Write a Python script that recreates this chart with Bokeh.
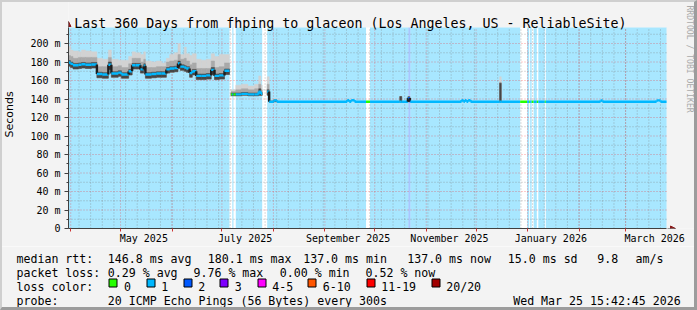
import math
import pandas as pd
from bokeh.plotting import figure
from bokeh.layouts import column
from bokeh.models import (ColumnDataSource, FixedTicker, DatetimeTickFormatter, Label,
                          Arrow, NormalHead, Range1d, InlineStyleSheet)
from bokeh.core.properties import value
from bokeh.embed import file_html
from bokeh.resources import INLINE

# ---------------------------------------------------------------- data
START = pd.Timestamp("2025-03-30 15:42")      # left edge of the 360 day window
SPAN_DAYS = 360
NAN = float("nan")

# sample start (days since START); a NaN value ends a data section
t_day = [0.0, 1.2, 2.7, 6.0, 7.8, 10.2, 13.8, 17.1, 20.4, 24.0, 25.8, 29.9, 31.9, 36.2,
         38.3, 40.3, 43.3, 45.3, 46.3, 49.9, 52.9, 55.9, 58.9, 60.9, 63.7, 65.9, 67.3,
         69.7, 70.9, 72.9, 74.5, 76.9, 79.9, 82.9, 85.9, 87.9, 90.7, 93.9, 96.9,
         97.8, 100.7, 104.0, 108.0, 112.0, 114.5, 115.8, 116.6,
         119.6, 120.8, 123.5, 125.5, 167.8, 169.0, 170.2, 172.2, 199.4, 200.6, 204.3,
         205.5, 236.6, 237.8, 238.6, 239.6, 240.6, 242.0, 259.5, 260.5, 320.3, 321.5,
         354.0, 356.4, 360.0]
# median rtt (ms)
median_ms = [179.5, 178.0, 176.5, 177.0, 177.5, 177.0, 177.3, 167.0, 166.5, 177.0, 167.5,
             168.5, 166.5, 170.0, 176.5, 176.5, 172.0, 176.0, 166.5, 167.0, 167.5, 167.5,
             172.0, 173.0, 173.5, 178.5, 175.0, 174.0, 173.0, 168.0, 170.0, 165.0, 165.0,
             165.5, 171.5, 165.0, 165.5, 170.5, NAN,
             145.0, 145.0, 145.5, 145.0, 145.0, 148.0, 145.5, NAN,
             148.0, 137.0, 138.5, 137.0, 138.8, 137.0, 138.8, 137.0, 137.0, 137.0, 141.0,
             137.0, 138.8, 137.0, 138.8, 137.0, 138.8, 137.0, 137.0, 137.0, 138.5, 137.0,
             138.5, 137.0, NAN]
# smoke: lowest ping, top of the dense core, top of the middle band, highest ping (ms)
smoke_lo = [175.5, 174, 172.5, 173, 173.5, 173, 173.5, 163, 162.5, 172, 163.5, 164.5, 162.5,
            166, 172.5, 172.5, 168, 171, 162.5, 163, 163.5, 163.5, 168, 169, 169.5, 173,
            171, 170, 169, 163.5, 166, 161, 161, 161.5, 166.5, 161, 161.5, 166.5, NAN,
            143.5, 143.5, 144, 143.5, 143.5, 144, 144, NAN,
            144, 136.5, 137, 137, 138.8, 137, 138.8, 137, 136.5, 137, 137, 137, 138.8, 137,
            138.8, 137, 138.8, 137, 136.5, 137, 138.5, 137, 138.5, 137, NAN]
smoke_core = [181.5, 180, 178.5, 179, 179.5, 179, 179.5, 169, 168.5, 180, 169.5, 170.5,
              168.5, 172, 178.5, 178.5, 174, 178, 168.5, 169, 169.5, 169.5, 174, 175, 175.5,
              181, 177, 176, 175, 170, 172, 167, 167, 167.5, 174, 167, 167.5, 172.5, NAN,
              146.5, 146.5, 147, 146.5, 146.5, 151, 147, NAN,
              150, 137.5, 139, 137, 138.8, 137, 138.8, 137, 142.7, 137, 142.5, 137, 138.8,
              137, 138.8, 137, 138.8, 137, 157, 137, 138.5, 137, 138.5, 137, NAN]
smoke_mid = [187, 186, 184, 185, 185, 185, 185, 175, 175, 185, 175, 176, 174, 178, 184, 184,
             180, 183, 174, 174, 175, 175, 180, 181, 182, 188, 183, 184, 181, 177, 179, 173,
             173, 173, 181, 174, 175, 179, NAN,
             148, 150, 151, 150, 151, 156, 150, NAN,
             156, 138, 139.5, 137, 138.8, 137, 138.8, 137, 142.7, 137, 142.5, 137, 138.8,
             137, 138.8, 137, 138.8, 137, 158, 137, 138.5, 137, 138.5, 137, NAN]
smoke_hi = [197, 193, 192, 191, 193, 192, 191, 184, 183, 193, 183, 182, 182, 186, 191, 190,
            188, 191, 181, 180, 181, 179, 184, 188, 190, 200, 188, 196, 189, 187, 189, 183,
            182, 183, 189, 186, 188, 188, NAN,
            150, 155, 156, 154, 156, 165, 155, NAN,
            164, 139, 140.5, 137, 138.8, 137, 138.8, 137, 143, 137, 143, 137, 138.8,
            137, 138.8, 137, 138.8, 137, 164, 137, 138.5, 137, 138.5, 137, NAN]

# loss runs: start day and loss colour index (-1 = no data)
loss_day = [0.0, 96.9, 97.8, 98.6, 99.3, 100.7, 116.6, 119.6, 179.1, 181.5, 204.6, 205.8,
            271.9, 276.1, 277.3, 277.9, 278.8, 280.0, 281.9, 282.8, 286.7, 287.3]
loss_idx = [1, -1, 0, 1, 0, 1, -1, 1, 0, 1, 2, 1, 0, 1, 0, 1, 0, 1, 0, 1, 0, 1]
loss_names = ["0", "1", "2", "3", "4-5", "6-10", "11-19", "20/20"]
loss_colors = ["#26ff00", "#00b8ff", "#0059ff", "#7e00ff", "#ff00ff", "#ff5500",
               "#ff0000", "#a10000"]

y_ticks = [0, 20, 40, 60, 80, 100, 120, 140, 160, 180, 200]
y_tick_labels = ["0", "20 m", "40 m", "60 m", "80 m", "100 m", "120 m", "140 m",
                 "160 m", "180 m", "200 m"]
x_label_dates = ["2025-05-15", "2025-07-15", "2025-09-15", "2025-11-15", "2026-01-15",
                 "2026-03-18 12:00"]

title_text = "Last 360 Days from fhping to glaceon (Los Angeles, US - ReliableSite)"
rtt_text = ["146.8 ms avg", "180.1 ms max", "137.0 ms min", "137.0 ms now",
            "15.0 ms sd", "9.8", "am/s"]
pl_text = ["0.29 % avg", "9.76 % max", "0.00 % min", "0.52 % now"]
probe_text = "20 ICMP Echo Pings (56 Bytes) every 300s"
stamp_text = "Wed Mar 25 15:42:45 2026"
mark_text = "RRDTOOL / TOBI OETIKER"

# ---------------------------------------------------------------- layout
W, H = 697, 310
FL, FR, FT, FB = 67, 666, 27, 228          # data area edges in canvas pixels
MAIN_H = 246                               # main figure height (rest: legend strip)
PXD = (FR - FL) / SPAN_DAYS                # px per day
PXM = 0.925                                # px per ms
Y_TOP = (FB - FT) / PXM
MONO = "DejaVu Sans Mono"
BG = "#f3f3f3"
MS0 = START.value / 1e6


def day_ms(d):
    return MS0 + d * 86400000.0


# frame covers x 67..697, y 0..228 so that nothing near the data area is clipped
p = figure(width=W, height=MAIN_H, x_axis_type="datetime",
           x_range=Range1d(day_ms(0), day_ms((W - FL) / PXD)),
           y_range=Range1d(0, FB / PXM),
           output_backend="svg", toolbar_location=None,
           min_border_left=FL, min_border_right=0, min_border_top=0,
           min_border_bottom=MAIN_H - FB, background_fill_color=BG,
           border_fill_color=BG, outline_line_color=None)
p.xgrid.visible = False
p.ygrid.visible = False

# data area: white, shaded with loss colour
p.quad(left=[day_ms(0)], right=[day_ms(SPAN_DAYS)], bottom=[0], top=[Y_TOP],
       fill_color="white", line_color=None)
run_end = loss_day[1:] + [SPAN_DAYS]
bg = dict(left=[], right=[], color=[])
for d0, d1, k in zip(loss_day, run_end, loss_idx):
    if k >= 1:
        bg["left"].append(day_ms(d0))
        bg["right"].append(day_ms(d1))
        bg["color"].append(loss_colors[k])
p.quad(left="left", right="right", bottom=0, top=Y_TOP, fill_color="color",
       fill_alpha=0.34, line_color=None, source=ColumnDataSource(bg))

# grid lines (limited to the data area)
month_starts = pd.date_range("2025-04-01", "2026-03-01", freq="MS")
sundays = pd.date_range("2025-04-06", "2026-03-22", freq="W-SUN")
to_ms = lambda idx: [ts.value / 1e6 for ts in idx]
GRID = [("#7a7a7a", 0.55, to_ms(sundays), [v + 10 for v in y_ticks]),
        ("#ff0000", 0.40, to_ms(month_starts), y_ticks[1:])]
for col, alpha, xs, ys in GRID:
    g = dict(x0=[], y0=[], x1=[], y1=[])
    for x in xs:
        g["x0"].append(x); g["x1"].append(x); g["y0"].append(0); g["y1"].append(Y_TOP)
    for y in ys:
        g["x0"].append(day_ms(0)); g["x1"].append(day_ms(SPAN_DAYS))
        g["y0"].append(y); g["y1"].append(y)
    p.segment(x0="x0", y0="y0", x1="x1", y1="y1", line_color=col, line_alpha=alpha,
              line_dash="1 2", line_width=1, source=ColumnDataSource(g))

# smoke
for top_arr, col in [(smoke_hi, "#d2d2d2"), (smoke_mid, "#a9a9a9"), (smoke_core, "#474747")]:
    src = dict(left=[], right=[], bottom=[], top=[])
    for i in range(len(t_day) - 1):
        lo, hi = smoke_lo[i], top_arr[i]
        if math.isnan(median_ms[i]) or hi - lo < 0.05:
            continue
        src["left"].append(day_ms(t_day[i]))
        src["right"].append(day_ms(t_day[i + 1]))
        src["bottom"].append(lo)
        src["top"].append(hi)
    p.quad(left="left", right="right", bottom="bottom", top="top", fill_color=col,
           line_color=col, line_width=0.5, source=ColumnDataSource(src))


# median line coloured by loss
def loss_at(d):
    k = 0
    for j, s in enumerate(loss_day):
        if s <= d:
            k = j
    return loss_idx[k]


seg = dict(x0=[], y0=[], x1=[], y1=[], color=[])
for i in range(len(t_day) - 1):
    m = median_ms[i]
    if math.isnan(m):
        continue
    t0, t1 = t_day[i], t_day[i + 1]
    cuts = sorted({t0, t1, *[b for b in loss_day if t0 < b < t1]})
    for a, b in zip(cuts[:-1], cuts[1:]):
        k = loss_at((a + b) / 2)
        seg["x0"].append(day_ms(a)); seg["x1"].append(day_ms(b))
        seg["y0"].append(m); seg["y1"].append(m)
        seg["color"].append(loss_colors[k] if k >= 0 else loss_colors[1])
    nxt = median_ms[i + 1]
    if not math.isnan(nxt) and nxt != m:
        k = loss_at(t1)
        seg["x0"].append(day_ms(t1)); seg["x1"].append(day_ms(t1))
        seg["y0"].append(m); seg["y1"].append(nxt)
        seg["color"].append("#1e1e1e" if abs(nxt - m) > 3 else loss_colors[max(k, 0)])
p.segment(x0="x0", y0="y0", x1="x1", y1="y1", line_color="color", line_width=2.4,
          line_cap="butt", source=ColumnDataSource(seg))

# axes
p.yaxis.ticker = FixedTicker(ticks=y_ticks, minor_ticks=[v + 10 for v in y_ticks])
p.yaxis.major_label_overrides = dict(zip(y_ticks, y_tick_labels))
p.yaxis.bounds = (0, Y_TOP)
p.yaxis.axis_label = "Seconds"
p.yaxis.axis_label_text_font = "DejaVu Sans"
p.yaxis.axis_label_text_font_size = "11px"
p.yaxis.axis_label_text_font_style = "normal"
p.yaxis.axis_label_text_color = "black"
p.yaxis.axis_label_standoff = 11
p.yaxis.major_tick_out = 4
p.yaxis.major_tick_in = 0
p.yaxis.minor_tick_out = 2
p.yaxis.minor_tick_in = 0
p.yaxis.major_label_standoff = 4
p.yaxis.major_tick_line_color = "#404040"
p.yaxis.minor_tick_line_color = "#404040"

x_ticks = [pd.Timestamp(s).value / 1e6 for s in x_label_dates]
p.xaxis.ticker = FixedTicker(ticks=x_ticks, minor_ticks=to_ms(month_starts))
p.xaxis.bounds = (day_ms(0), day_ms(SPAN_DAYS))
fmt = "%B %Y"
p.xaxis.formatter = DatetimeTickFormatter(microseconds=fmt, milliseconds=fmt, seconds=fmt,
                                          minsec=fmt, minutes=fmt, hourmin=fmt, hours=fmt,
                                          days=fmt, months=fmt, years=fmt)
p.xaxis.major_tick_line_color = None
p.xaxis.major_tick_out = 3
p.xaxis.major_tick_in = 0
p.xaxis.minor_tick_out = 3
p.xaxis.minor_tick_in = 0
p.xaxis.minor_tick_line_color = "#cc3333"
p.xaxis.major_label_standoff = 1

for ax in (p.xaxis, p.yaxis):
    ax.major_label_text_font = MONO
    ax.major_label_text_font_size = "10px"
    ax.major_label_text_color = "black"
    ax.axis_line_color = "#404040"


# frame-relative screen coordinates from canvas pixels
def sx(px):
    return px - FL


def sy(py):
    return FB - py


head = lambda: NormalHead(size=5, fill_color="#8b1a1a", line_color="#8b1a1a")
p.add_layout(Arrow(end=head(), x_start=0, y_start=sy(FT), x_end=0, y_end=sy(21),
                   start_units="screen", end_units="screen", line_color="#404040"))
p.add_layout(Arrow(end=head(), x_start=sx(FR), y_start=0, x_end=sx(674), y_end=0,
                   start_units="screen", end_units="screen", line_color="#404040"))

p.add_layout(Label(x=sx(72.7), y=sy(23.3), x_units="screen", y_units="screen",
                   text=title_text, text_font=MONO, text_font_size="13.3px",
                   text_color="black", text_baseline="alphabetic"))
p.add_layout(Label(x=sx(688.5), y=sy(5), x_units="screen", y_units="screen",
                   text=mark_text, text_font=MONO, text_font_size="8.1px",
                   text_color="#aaaaaa", text_baseline="middle", angle=-math.pi / 2))

# ---------------------------------------------------------------- legend strip
q = figure(width=W, height=H - MAIN_H, x_range=Range1d(0, W), y_range=Range1d(H, MAIN_H),
           output_backend="svg", toolbar_location=None, x_axis_location=None,
           y_axis_location=None, min_border=0, min_border_left=0, min_border_right=0,
           min_border_top=0, min_border_bottom=0, background_fill_color=BG,
           border_fill_color=BG, outline_line_color=None)
q.grid.visible = False

FS = "11.6px"
LINES = [258, 272, 286, 300]
tx, ty, tt = [], [], []


def put(text, px, py):
    tx.append(px); ty.append(py); tt.append(text)


put("median rtt:", 16, LINES[0])
for txt, x in zip(rtt_text, [107.3, 207.3, 302.7, 406.7, 507.3, 596.7, 635.0]):
    put(txt, x, LINES[0])
put("packet loss:", 16, LINES[1])
for txt, x in zip(pl_text, [107.3, 193.0, 279.3, 365.0]):
    put(txt, x, LINES[1])
put("loss color:", 16, LINES[2])
sq_x = [108.5, 145.7, 182.7, 219.3, 256.7, 307.3, 365.7, 430.7]
for name, x in zip(loss_names, sq_x):
    put(name, x + 15, LINES[2])
put("probe:", 16, LINES[3])
put(probe_text, 107.3, LINES[3])
put(stamp_text, 512.7, LINES[3])
q.text(x=tx, y=ty, text=tt, text_font=value(MONO), text_font_size=value(FS),
       text_color="black", text_baseline="alphabetic", text_align="left")
q.quad(left=[round(x) + 0.5 for x in sq_x], right=[round(x) + 8.5 for x in sq_x],
       top=[278.5] * len(sq_x), bottom=[286.5] * len(sq_x), fill_color=loss_colors,
       line_color="black", line_width=1)

# do not line the two frames up with each other
for f in (p, q):
    if "frame_align" in f.properties():
        f.frame_align = False

edge_css = InlineStyleSheet(css="""
:host { position: relative; }
:host::after { content: ""; position: absolute; left: 0; top: 0; right: 0; bottom: 0;
  box-sizing: border-box; border-left: 2px solid #cfcfcf; border-top: 2px solid #cfcfcf;
  border-right: 3px solid #9c9c9c; border-bottom: 3px solid #9c9c9c;
  pointer-events: none; z-index: 10; }
""")
layout = column(p, q, spacing=0, stylesheets=[edge_css])

open("out.html", "w").write(file_html(layout, INLINE))
